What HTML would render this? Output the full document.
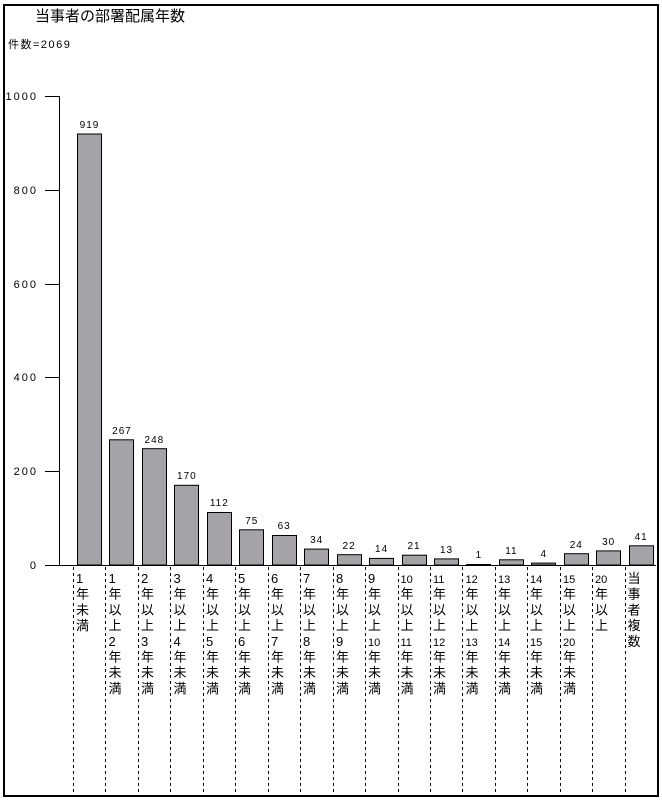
<!DOCTYPE html>
<html><head><meta charset="utf-8"><style>
html,body{margin:0;padding:0;background:#fff;width:662px;height:800px;overflow:hidden}
svg text{font-family:"Liberation Sans","Noto Sans CJK JP",sans-serif;fill:#000}
</style></head><body>
<svg width="662" height="800" viewBox="0 0 662 800" xmlns="http://www.w3.org/2000/svg">
<rect x="4" y="5" width="654" height="791" fill="none" stroke="#000" stroke-width="2"/>
<text x="35" y="21" font-size="15">当事者の部署配属年数</text>
<text x="8" y="48" font-size="11" letter-spacing="1.5">件数=2069</text>
<g font-size="11" text-anchor="end" letter-spacing="2">
<text x="38" y="100">1000</text><text x="38" y="194">800</text><text x="38" y="288">600</text>
<text x="38" y="381">400</text><text x="38" y="475">200</text><text x="38" y="569">0</text>
</g>
<g stroke="#000" stroke-width="1">
<line x1="59.5" y1="96" x2="59.5" y2="565"/>
<line x1="45" y1="96.5" x2="59" y2="96.5"/><line x1="45" y1="190.5" x2="59" y2="190.5"/>
<line x1="45" y1="284.5" x2="59" y2="284.5"/><line x1="45" y1="377.5" x2="59" y2="377.5"/>
<line x1="45" y1="471.5" x2="59" y2="471.5"/><line x1="45" y1="565.5" x2="656" y2="565.5"/>
</g>
<g fill="#a5a3a8" stroke="#000">
<rect x="77.5" y="134" width="24" height="431"/>
<rect x="109.5" y="439.8" width="24" height="125.2"/>
<rect x="142.5" y="448.7" width="24" height="116.3"/>
<rect x="174.5" y="485.3" width="24" height="79.7"/>
<rect x="207.5" y="512.5" width="24" height="52.5"/>
<rect x="239.5" y="529.8" width="24" height="35.2"/>
<rect x="272.5" y="535.5" width="24" height="29.5"/>
<rect x="304.5" y="549.1" width="24" height="15.9"/>
<rect x="337.5" y="554.7" width="24" height="10.3"/>
<rect x="369.5" y="558.4" width="24" height="6.6"/>
<rect x="402.5" y="555.2" width="24" height="9.8"/>
<rect x="434.5" y="558.9" width="24" height="6.1"/>
<rect x="466.5" y="564.5" width="24" height="0.5"/>
<rect x="499.5" y="559.8" width="24" height="5.2"/>
<rect x="531.5" y="563.1" width="24" height="1.9"/>
<rect x="564.5" y="553.7" width="24" height="11.3"/>
<rect x="596.5" y="550.9" width="24" height="14.1"/>
<rect x="629.5" y="545.8" width="24" height="19.2"/>
</g>
<g font-size="10" text-anchor="middle" letter-spacing="1">
<text x="89.5" y="128">919</text><text x="122" y="434">267</text><text x="154.4" y="443">248</text>
<text x="186.9" y="479">170</text><text x="219.3" y="506">112</text><text x="251.8" y="524">75</text>
<text x="284.2" y="529">63</text><text x="316.7" y="543">34</text><text x="349.1" y="549">22</text>
<text x="381.6" y="552">14</text><text x="414" y="549">21</text><text x="446.5" y="553">13</text>
<text x="478.9" y="558">1</text><text x="511.4" y="554">11</text><text x="543.8" y="557">4</text>
<text x="576.3" y="548">24</text><text x="608.7" y="545">30</text><text x="641.2" y="540">41</text>
</g>
<g stroke="#000" stroke-dasharray="3,3">
<line x1="73.5" y1="567" x2="73.5" y2="795"/><line x1="105.5" y1="567" x2="105.5" y2="795"/>
<line x1="138.5" y1="567" x2="138.5" y2="795"/><line x1="170.5" y1="567" x2="170.5" y2="795"/>
<line x1="203.5" y1="567" x2="203.5" y2="795"/><line x1="235.5" y1="567" x2="235.5" y2="795"/>
<line x1="268.5" y1="567" x2="268.5" y2="795"/><line x1="300.5" y1="567" x2="300.5" y2="795"/>
<line x1="333.5" y1="567" x2="333.5" y2="795"/><line x1="365.5" y1="567" x2="365.5" y2="795"/>
<line x1="398.5" y1="567" x2="398.5" y2="795"/><line x1="430.5" y1="567" x2="430.5" y2="795"/>
<line x1="462.5" y1="567" x2="462.5" y2="795"/><line x1="495.5" y1="567" x2="495.5" y2="795"/>
<line x1="527.5" y1="567" x2="527.5" y2="795"/><line x1="560.5" y1="567" x2="560.5" y2="795"/>
<line x1="592.5" y1="567" x2="592.5" y2="795"/><line x1="625.5" y1="567" x2="625.5" y2="795"/>
</g>
<g font-size="13">
<text y="583"><tspan x="76">1</tspan><tspan x="76" dy="15.7">年</tspan><tspan x="76" dy="15.7">未</tspan><tspan x="76" dy="15.7">満</tspan></text>
<text y="583"><tspan x="108.5">1</tspan><tspan x="108.5" dy="15.7">年</tspan><tspan x="108.5" dy="15.7">以</tspan><tspan x="108.5" dy="15.7">上</tspan><tspan x="108.5" dy="15.7">2</tspan><tspan x="108.5" dy="15.7">年</tspan><tspan x="108.5" dy="15.7">未</tspan><tspan x="108.5" dy="15.7">満</tspan></text>
<text y="583"><tspan x="141">2</tspan><tspan x="141" dy="15.7">年</tspan><tspan x="141" dy="15.7">以</tspan><tspan x="141" dy="15.7">上</tspan><tspan x="141" dy="15.7">3</tspan><tspan x="141" dy="15.7">年</tspan><tspan x="141" dy="15.7">未</tspan><tspan x="141" dy="15.7">満</tspan></text>
<text y="583"><tspan x="173.5">3</tspan><tspan x="173.5" dy="15.7">年</tspan><tspan x="173.5" dy="15.7">以</tspan><tspan x="173.5" dy="15.7">上</tspan><tspan x="173.5" dy="15.7">4</tspan><tspan x="173.5" dy="15.7">年</tspan><tspan x="173.5" dy="15.7">未</tspan><tspan x="173.5" dy="15.7">満</tspan></text>
<text y="583"><tspan x="206">4</tspan><tspan x="206" dy="15.7">年</tspan><tspan x="206" dy="15.7">以</tspan><tspan x="206" dy="15.7">上</tspan><tspan x="206" dy="15.7">5</tspan><tspan x="206" dy="15.7">年</tspan><tspan x="206" dy="15.7">未</tspan><tspan x="206" dy="15.7">満</tspan></text>
<text y="583"><tspan x="238">5</tspan><tspan x="238" dy="15.7">年</tspan><tspan x="238" dy="15.7">以</tspan><tspan x="238" dy="15.7">上</tspan><tspan x="238" dy="15.7">6</tspan><tspan x="238" dy="15.7">年</tspan><tspan x="238" dy="15.7">未</tspan><tspan x="238" dy="15.7">満</tspan></text>
<text y="583"><tspan x="271">6</tspan><tspan x="271" dy="15.7">年</tspan><tspan x="271" dy="15.7">以</tspan><tspan x="271" dy="15.7">上</tspan><tspan x="271" dy="15.7">7</tspan><tspan x="271" dy="15.7">年</tspan><tspan x="271" dy="15.7">未</tspan><tspan x="271" dy="15.7">満</tspan></text>
<text y="583"><tspan x="303">7</tspan><tspan x="303" dy="15.7">年</tspan><tspan x="303" dy="15.7">以</tspan><tspan x="303" dy="15.7">上</tspan><tspan x="303" dy="15.7">8</tspan><tspan x="303" dy="15.7">年</tspan><tspan x="303" dy="15.7">未</tspan><tspan x="303" dy="15.7">満</tspan></text>
<text y="583"><tspan x="336">8</tspan><tspan x="336" dy="15.7">年</tspan><tspan x="336" dy="15.7">以</tspan><tspan x="336" dy="15.7">上</tspan><tspan x="336" dy="15.7">9</tspan><tspan x="336" dy="15.7">年</tspan><tspan x="336" dy="15.7">未</tspan><tspan x="336" dy="15.7">満</tspan></text>
<text y="583"><tspan x="368">9</tspan><tspan x="368" dy="15.7">年</tspan><tspan x="368" dy="15.7">以</tspan><tspan x="368" dy="15.7">上</tspan><tspan x="368" dy="15.7" font-size="11">10</tspan><tspan x="368" dy="15.7">年</tspan><tspan x="368" dy="15.7">未</tspan><tspan x="368" dy="15.7">満</tspan></text>
<text y="583"><tspan x="400.5" font-size="11">10</tspan><tspan x="400.5" dy="15.7">年</tspan><tspan x="400.5" dy="15.7">以</tspan><tspan x="400.5" dy="15.7">上</tspan><tspan x="400.5" dy="15.7" font-size="11">11</tspan><tspan x="400.5" dy="15.7">年</tspan><tspan x="400.5" dy="15.7">未</tspan><tspan x="400.5" dy="15.7">満</tspan></text>
<text y="583"><tspan x="433" font-size="11">11</tspan><tspan x="433" dy="15.7">年</tspan><tspan x="433" dy="15.7">以</tspan><tspan x="433" dy="15.7">上</tspan><tspan x="433" dy="15.7" font-size="11">12</tspan><tspan x="433" dy="15.7">年</tspan><tspan x="433" dy="15.7">未</tspan><tspan x="433" dy="15.7">満</tspan></text>
<text y="583"><tspan x="465.5" font-size="11">12</tspan><tspan x="465.5" dy="15.7">年</tspan><tspan x="465.5" dy="15.7">以</tspan><tspan x="465.5" dy="15.7">上</tspan><tspan x="465.5" dy="15.7" font-size="11">13</tspan><tspan x="465.5" dy="15.7">年</tspan><tspan x="465.5" dy="15.7">未</tspan><tspan x="465.5" dy="15.7">満</tspan></text>
<text y="583"><tspan x="498" font-size="11">13</tspan><tspan x="498" dy="15.7">年</tspan><tspan x="498" dy="15.7">以</tspan><tspan x="498" dy="15.7">上</tspan><tspan x="498" dy="15.7" font-size="11">14</tspan><tspan x="498" dy="15.7">年</tspan><tspan x="498" dy="15.7">未</tspan><tspan x="498" dy="15.7">満</tspan></text>
<text y="583"><tspan x="530" font-size="11">14</tspan><tspan x="530" dy="15.7">年</tspan><tspan x="530" dy="15.7">以</tspan><tspan x="530" dy="15.7">上</tspan><tspan x="530" dy="15.7" font-size="11">15</tspan><tspan x="530" dy="15.7">年</tspan><tspan x="530" dy="15.7">未</tspan><tspan x="530" dy="15.7">満</tspan></text>
<text y="583"><tspan x="563" font-size="11">15</tspan><tspan x="563" dy="15.7">年</tspan><tspan x="563" dy="15.7">以</tspan><tspan x="563" dy="15.7">上</tspan><tspan x="563" dy="15.7" font-size="11">20</tspan><tspan x="563" dy="15.7">年</tspan><tspan x="563" dy="15.7">未</tspan><tspan x="563" dy="15.7">満</tspan></text>
<text y="583"><tspan x="595" font-size="11">20</tspan><tspan x="595" dy="15.7">年</tspan><tspan x="595" dy="15.7">以</tspan><tspan x="595" dy="15.7">上</tspan></text>
<text y="583"><tspan x="627.5">当</tspan><tspan x="627.5" dy="15.7">事</tspan><tspan x="627.5" dy="15.7">者</tspan><tspan x="627.5" dy="15.7">複</tspan><tspan x="627.5" dy="15.7">数</tspan></text>
</g>
</svg>
</body></html>
